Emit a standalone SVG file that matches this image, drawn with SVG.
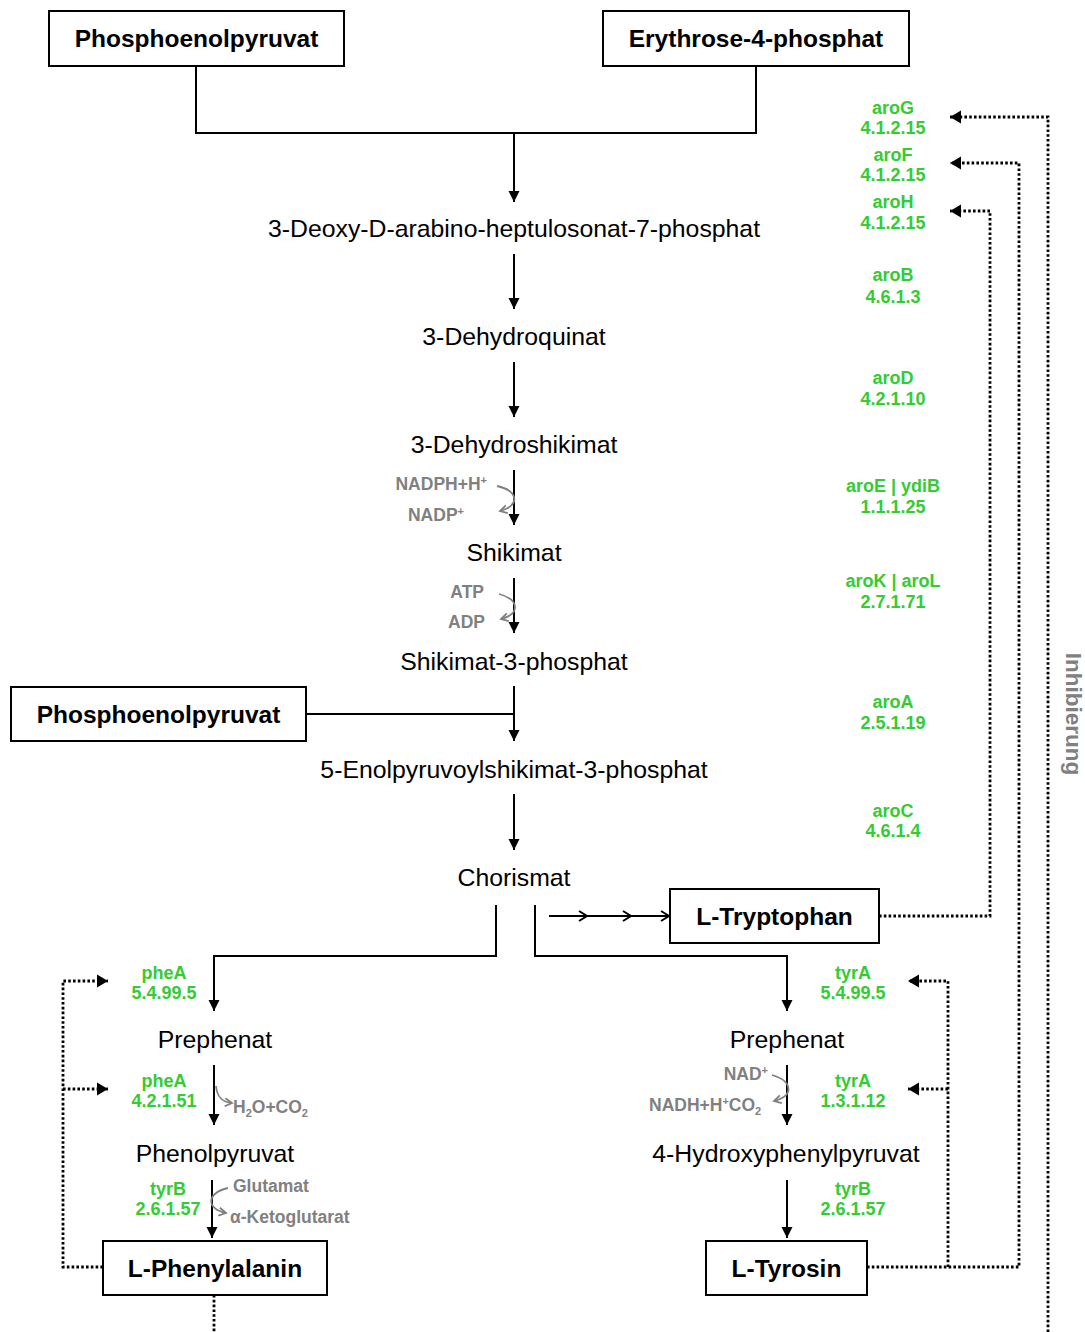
<svg xmlns="http://www.w3.org/2000/svg" width="1085" height="1332" viewBox="0 0 1085 1332">
  <defs>
    <style>
      .box { fill: #fff; stroke: #000; stroke-width: 2; }
      .bt { font-family: "Liberation Sans", Arial, sans-serif; font-weight: bold; font-size: 24.5px; text-anchor: middle; fill: #000; }
      .mt { font-family: "Liberation Sans", Arial, sans-serif; font-size: 24.8px; text-anchor: middle; fill: #000; }
      .en { font-family: "Liberation Sans", Arial, sans-serif; font-weight: bold; font-size: 18px; text-anchor: middle; fill: #33cc33; }
      .co { font-family: "Liberation Sans", Arial, sans-serif; font-weight: bold; font-size: 17.5px; fill: #808080; }
      .lg { font-family: "Liberation Sans", Arial, sans-serif; font-weight: bold; font-size: 22.5px; fill: #808080; text-anchor: middle; }
      .ln { fill: none; stroke: #000; stroke-width: 2; }
      .ar { fill: none; stroke: #000; stroke-width: 2; marker-end: url(#head); }
      .dot { fill: none; stroke: #000; stroke-width: 2.8; stroke-dasharray: 2.6 2.2; }
      .dar { fill: none; stroke: #000; stroke-width: 2.8; stroke-dasharray: 2.6 2.2; marker-end: url(#dhead); }
      .cf { fill: none; stroke: #808080; stroke-width: 1.8; marker-end: url(#ghead); }
    </style>
    <marker id="head" markerUnits="userSpaceOnUse" markerWidth="12" markerHeight="12" refX="11" refY="6" orient="auto" viewBox="0 0 12 12">
      <path d="M0,0.5 L11,6 L0,11.5 z" fill="#000"/>
    </marker>
    <marker id="dhead" markerUnits="userSpaceOnUse" markerWidth="12" markerHeight="14" refX="11" refY="7" orient="auto" viewBox="0 0 12 14">
      <path d="M0,0.5 L11,7 L0,13.5 z" fill="#000"/>
    </marker>
    <marker id="chev" markerUnits="userSpaceOnUse" markerWidth="12" markerHeight="12" refX="10" refY="6" orient="auto" viewBox="0 0 12 12">
      <path d="M2,1 L10,6 L2,11" fill="none" stroke="#000" stroke-width="2"/>
    </marker>
    <marker id="ghead" markerUnits="userSpaceOnUse" markerWidth="10" markerHeight="10" refX="8" refY="5" orient="auto" viewBox="0 0 10 10">
      <path d="M1,1 L8,5 L1,9" fill="none" stroke="#808080" stroke-width="1.8"/>
    </marker>
  </defs>

  <rect width="1085" height="1332" fill="#fff"/>

  <!-- connectors -->
  <g id="connectors">
    <!-- precursors merge into DAHP -->
    <path class="ln" d="M196,66 V133 H756 V66"/>
    <path class="ar" d="M514,133 V202"/>
    <!-- main chain -->
    <path class="ar" d="M514,254 V309"/>
    <path class="ar" d="M514,362 V417"/>
    <path class="ar" d="M514,470 V525"/>
    <path class="ar" d="M514,578 V633"/>
    <path class="ar" d="M514,686 V741"/>
    <path class="ln" d="M306,714 H514"/>
    <path class="ar" d="M514,794 V850"/>
    <!-- chorismate branches -->
    <path class="ar" d="M496,905 V956 H214 V1011"/>
    <path class="ar" d="M535,905 V956 H787 V1011"/>
    <path class="ln" d="M549,916 H587" marker-end="url(#chev)"/>
    <path class="ln" d="M587,916 H631" marker-end="url(#chev)"/>
    <path class="ln" d="M631,916 H669" marker-end="url(#chev)"/>
    <!-- phenylalanine branch -->
    <path class="ar" d="M214,1065 V1125"/>
    <path class="ar" d="M212,1180 V1238"/>
    <!-- tyrosine branch -->
    <path class="ar" d="M787,1065 V1125"/>
    <path class="ar" d="M787,1180 V1238"/>

    <!-- cofactor turnovers -->
    <path class="cf" d="M497,486 C519,491 520,506 500,511"/>
    <path class="cf" d="M499,594 C520,600 520,614 501,619"/>
    <path class="cf" d="M216,1086 C217,1097 222,1102 232,1103"/>
    <path class="cf" d="M228,1188 C206,1193 206,1209 226,1213"/>
    <path class="cf" d="M772,1075 C793,1081 794,1096 774,1101"/>

    <!-- feedback inhibition -->
    <path class="dar" d="M1048,1332 V117 H950"/>
    <path class="dar" d="M867,1267 H1019 V163 H950"/>
    <path class="dar" d="M879,916 H990 V211 H950"/>
    <path class="dar" d="M948,1267 V981 H908"/>
    <path class="dar" d="M948,1089 H908"/>
    <path class="dar" d="M103,1267 H63 V981 H108"/>
    <path class="dar" d="M63,1089 H108"/>
    <path class="dot" d="M214,1295 V1332"/>
  </g>

  <!-- substrate / product boxes -->
  <g id="pep1"><rect class="box" x="49" y="11" width="295" height="55"/><text class="bt" x="196.5" y="47.3">Phosphoenolpyruvat</text></g>
  <g id="e4p"><rect class="box" x="603" y="11" width="306" height="55"/><text class="bt" x="756" y="47.3">Erythrose-4-phosphat</text></g>
  <g id="pep2"><rect class="box" x="11" y="687" width="295" height="54"/><text class="bt" x="158.5" y="722.8">Phosphoenolpyruvat</text></g>
  <g id="trp"><rect class="box" x="670" y="889" width="209" height="54"/><text class="bt" x="774.5" y="924.8">L-Tryptophan</text></g>
  <g id="phe"><rect class="box" x="103" y="1241" width="224" height="54"/><text class="bt" x="215" y="1276.8">L-Phenylalanin</text></g>
  <g id="tyr"><rect class="box" x="706" y="1241" width="161" height="54"/><text class="bt" x="786.5" y="1276.8">L-Tyrosin</text></g>

  <!-- intermediates -->
  <g id="dahp"><text class="mt" x="514" y="237">3-Deoxy-D-arabino-heptulosonat-7-phosphat</text></g>
  <g id="dhq"><text class="mt" x="514" y="345">3-Dehydroquinat</text></g>
  <g id="dhs"><text class="mt" x="514" y="453">3-Dehydroshikimat</text></g>
  <g id="shk"><text class="mt" x="514" y="561">Shikimat</text></g>
  <g id="s3p"><text class="mt" x="514" y="670">Shikimat-3-phosphat</text></g>
  <g id="epsp"><text class="mt" x="514" y="778">5-Enolpyruvoylshikimat-3-phosphat</text></g>
  <g id="cho"><text class="mt" x="514" y="886">Chorismat</text></g>
  <g id="pre1"><text class="mt" x="215" y="1048">Prephenat</text></g>
  <g id="pre2"><text class="mt" x="787" y="1048">Prephenat</text></g>
  <g id="ppy"><text class="mt" x="215" y="1162">Phenolpyruvat</text></g>
  <g id="hpp"><text class="mt" x="786" y="1162">4-Hydroxyphenylpyruvat</text></g>

  <!-- enzymes -->
  <g id="enzymes">
    <text class="en" x="893" y="113.5">aroG</text><text class="en" x="893" y="133.5">4.1.2.15</text>
    <text class="en" x="893" y="160.5">aroF</text><text class="en" x="893" y="180.5">4.1.2.15</text>
    <text class="en" x="893" y="207.5">aroH</text><text class="en" x="893" y="228.5">4.1.2.15</text>
    <text class="en" x="893" y="280.5">aroB</text><text class="en" x="893" y="302.5">4.6.1.3</text>
    <text class="en" x="893" y="383.5">aroD</text><text class="en" x="893" y="404.5">4.2.1.10</text>
    <text class="en" x="893" y="491.5">aroE | ydiB</text><text class="en" x="893" y="512.5">1.1.1.25</text>
    <text class="en" x="893" y="586.5">aroK | aroL</text><text class="en" x="893" y="607.5">2.7.1.71</text>
    <text class="en" x="893" y="707.5">aroA</text><text class="en" x="893" y="728.5">2.5.1.19</text>
    <text class="en" x="893" y="816.5">aroC</text><text class="en" x="893" y="836.5">4.6.1.4</text>
    <text class="en" x="164" y="978.5">pheA</text><text class="en" x="164" y="998.5">5.4.99.5</text>
    <text class="en" x="164" y="1086.5">pheA</text><text class="en" x="164" y="1106.5">4.2.1.51</text>
    <text class="en" x="168" y="1194.5">tyrB</text><text class="en" x="168" y="1214.5">2.6.1.57</text>
    <text class="en" x="853" y="978.5">tyrA</text><text class="en" x="853" y="998.5">5.4.99.5</text>
    <text class="en" x="853" y="1086.5">tyrA</text><text class="en" x="853" y="1106.5">1.3.1.12</text>
    <text class="en" x="853" y="1194.5">tyrB</text><text class="en" x="853" y="1214.5">2.6.1.57</text>
  </g>

  <!-- cofactors -->
  <g id="cofactors">
    <text class="co" x="487" y="490" text-anchor="end">NADPH+H<tspan font-size="11" dy="-6">+</tspan></text>
    <text class="co" x="464" y="521" text-anchor="end">NADP<tspan font-size="11" dy="-6">+</tspan></text>
    <text class="co" x="484" y="598" text-anchor="end">ATP</text>
    <text class="co" x="485" y="628" text-anchor="end">ADP</text>
    <text class="co" x="233" y="1113">H<tspan font-size="11" dy="4">2</tspan><tspan dy="-4">O+CO</tspan><tspan font-size="11" dy="4">2</tspan></text>
    <text class="co" x="233" y="1192">Glutamat</text>
    <text class="co" x="230" y="1223">α-Ketoglutarat</text>
    <text class="co" x="768" y="1080" text-anchor="end">NAD<tspan font-size="11" dy="-6">+</tspan></text>
    <text class="co" x="649" y="1111">NADH+H<tspan font-size="11" dy="-6">+</tspan><tspan dy="6">CO</tspan><tspan font-size="11" dy="4">2</tspan></text>
  </g>

  <!-- feedback legend -->
  <g id="inhibition">
    <text class="lg" transform="translate(1066,714) rotate(90)">Inhibierung</text>
  </g>
</svg>
